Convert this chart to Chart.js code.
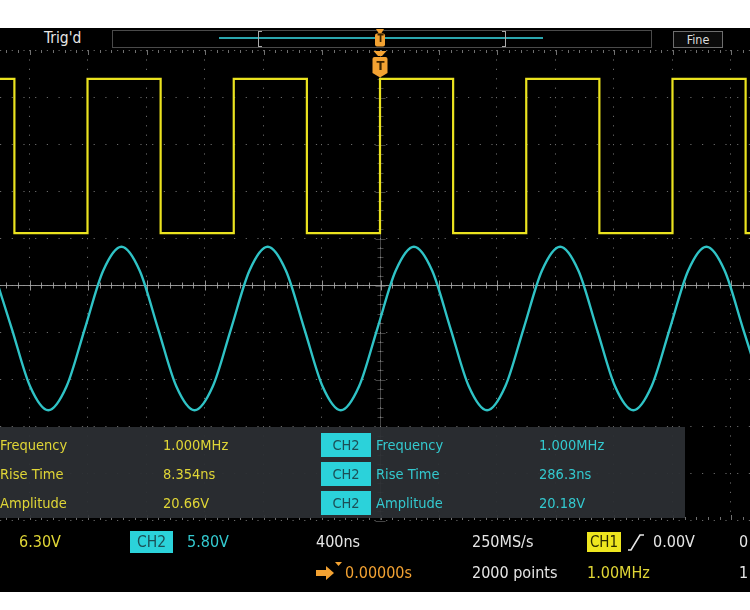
<!DOCTYPE html>
<html>
<head>
<meta charset="utf-8">
<script src="https://cdn.jsdelivr.net/npm/chart.js@4.4.0/dist/chart.umd.min.js"></script>
<style>
  html, body { margin: 0; padding: 0; background: #fff; }
  #scope {
    position: relative; width: 750px; height: 610px; overflow: hidden;
    font-family: "DejaVu Sans Condensed", "Liberation Sans Narrow", sans-serif;
  }
  #bg { position: absolute; left: 0; top: 28px; width: 750px; height: 564px; background: #000; }
  #wave { position: absolute; left: 0; top: 0; }
  .t { position: absolute; white-space: nowrap; height: 20px; line-height: 20px; font-size: 14.5px; }
  .s { font-size: 16px; }
  .yel { color: #e0d636; }
  .cyn { color: #33c9cf; }
  .wht { color: #e6e6e6; }
  .org { color: #f3a232; }
  .badge { position: absolute; text-align: center; font-size: 14.5px; }
  .b2 { background: #2bd2da; color: #1c4f56; }
  .b1 { background: #eee61f; color: #2a2a00; }
  #hdrbox { position: absolute; left: 112px; top: 30px; width: 538px; height: 16px; border: 1px solid #4a4a4a; }
  #hdrline { position: absolute; left: 219px; top: 37px; width: 324px; height: 2px; background: #2aa6ae; }
  .brk { position: absolute; top: 31px; width: 3px; height: 14px; border-top: 1px solid #aaa; border-bottom: 1px solid #aaa; }
  #fine { position: absolute; left: 673px; top: 31px; width: 48px; height: 15px; border: 1px solid #6e6e6e;
          background: #0b0b0b; color: #ddd; font-size: 12.5px; line-height: 15px; text-align: center; }
  #panel { position: absolute; left: 0; top: 427px; width: 685px; height: 91px; background: rgba(44, 47, 51, 0.94); }
  .tmark { position: absolute; color: #3b2300; font-weight: bold; text-align: center; line-height: 1; }
</style>
</head>
<body>
<div id="scope">
  <div id="bg"></div>

  <!-- header -->
  <div class="t wht" style="left:44px; top:28px; font-size:15.5px;">Trig'd</div>
  <div id="hdrbox"></div>
  <div id="hdrline"></div>
  <div class="brk" style="left:258px; border-left:1.5px solid #aaa;"></div>
  <div class="brk" style="left:502px; border-right:1.5px solid #aaa;"></div>
  <div id="fine">Fine</div>

  <canvas id="wave" width="750" height="610"></canvas>
  <div class="tmark" style="left:375px; top:34px; width:11px; font-size:10px;">T</div>
  <div class="tmark" style="left:373px; top:59px; width:15px; font-size:13px;">T</div>

  <!-- measurement panel -->
  <div id="panel"></div>
  <div class="t yel" style="left:0; top:435px;">Frequency</div>
  <div class="t yel" style="left:163px; top:435px;">1.000MHz</div>
  <div class="badge b2" style="left:321px; top:433px; width:50px; height:24px; line-height:24px;">CH2</div>
  <div class="t cyn" style="left:376px; top:435px;">Frequency</div>
  <div class="t cyn" style="left:539px; top:435px;">1.000MHz</div>

  <div class="t yel" style="left:0; top:464px;">Rise Time</div>
  <div class="t yel" style="left:163px; top:464px;">8.354ns</div>
  <div class="badge b2" style="left:321px; top:462px; width:50px; height:24px; line-height:24px;">CH2</div>
  <div class="t cyn" style="left:376px; top:464px;">Rise Time</div>
  <div class="t cyn" style="left:539px; top:464px;">286.3ns</div>

  <div class="t yel" style="left:0; top:493px;">Amplitude</div>
  <div class="t yel" style="left:163px; top:493px;">20.66V</div>
  <div class="badge b2" style="left:321px; top:491px; width:50px; height:24px; line-height:24px;">CH2</div>
  <div class="t cyn" style="left:376px; top:493px;">Amplitude</div>
  <div class="t cyn" style="left:539px; top:493px;">20.18V</div>

  <!-- status bar -->
  <div class="t s yel" style="left:19px; top:532px;">6.30V</div>
  <div class="badge b2" style="left:130px; top:531px; width:43px; height:22px; line-height:22px; font-size:15.5px;">CH2</div>
  <div class="t s cyn" style="left:187px; top:532px;">5.80V</div>
  <div class="t s wht" style="left:316px; top:532px;">400ns</div>
  <div class="t s wht" style="left:472px; top:532px;">250MS/s</div>
  <div class="badge b1" style="left:587px; top:532px; width:34px; height:20px; line-height:20px; font-size:15px;">CH1</div>
  <svg style="position:absolute; left:626px; top:532px;" width="20" height="20">
    <polyline points="2,18 5,18 14,3 18,3" fill="none" stroke="#e6e6e6" stroke-width="1.6"/>
  </svg>
  <div class="t s wht" style="left:653px; top:532px;">0.00V</div>
  <div class="t s wht" style="left:739px; top:532px;">0</div>

  <svg style="position:absolute; left:315px; top:561px;" width="30" height="22">
    <polygon points="1,9 11,9 11,5 19,12 11,19 11,15 1,15" fill="#f3a232"/>
    <polygon points="20,1 27,1 23.5,5" fill="#f3a232"/>
  </svg>
  <div class="t s org" style="left:345px; top:563px;">0.00000s</div>
  <div class="t s wht" style="left:472px; top:563px;">2000 points</div>
  <div class="t s yel" style="left:587px; top:563px;">1.00MHz</div>
  <div class="t s wht" style="left:739px; top:563px;">1</div>
</div>

<script>
// CH1: square wave, 1 MHz, 20.66 V amplitude (time in ns, level in V)
const ch1Time  = [-2650, -2500, -2500, -2000, -2000, -1500, -1500, -1000, -1000, -500, -500, 0,
                  0, 500, 500, 1000, 1000, 1500, 1500, 2000, 2000, 2500, 2500, 2650];
const ch1Volts = [10.33, 10.33, -10.33, -10.33, 10.33, 10.33, -10.33, -10.33, 10.33, 10.33, -10.33, -10.33,
                  10.33, 10.33, -10.33, -10.33, 10.33, 10.33, -10.33, -10.33, 10.33, 10.33, -10.33, -10.33];

// CH2: sine, 1 MHz, 20.18 V pk-pk, read every 1/8 period
const ch2Time  = [-2643, -2518, -2393, -2268, -2143, -2018, -1893, -1768, -1643, -1518, -1393,
                  -1268, -1143, -1018, -893, -768, -643, -518, -393, -268, -143, -18,
                  107, 232, 357, 482, 607, 732, 857, 982, 1107, 1232, 1357,
                  1482, 1607, 1732, 1857, 1982, 2107, 2232, 2357, 2482, 2607];
const ch2Volts = [7.13, 0, -7.13, -10.09, -7.13, 0, 7.13, 10.09,
                  7.13, 0, -7.13, -10.09, -7.13, 0, 7.13, 10.09,
                  7.13, 0, -7.13, -10.09, -7.13, 0, 7.13, 10.09,
                  7.13, 0, -7.13, -10.09, -7.13, 0, 7.13, 10.09,
                  7.13, 0, -7.13, -10.09, -7.13, 0, 7.13, 10.09,
                  7.13, 0, -7.13];

// graticule: time divisions (ns) and vertical divisions
const timeDivs = [-2400, -2000, -1600, -1200, -800, -400, 0, 400, 800, 1200, 1600, 2000, 2400];
const vertDivs = [-5, -4, -3, -2, -1, 0, 1, 2, 3, 4, 5];

// scope settings
const NS_PER_DIV = 400;
const CH1_V_DIV = 6.30, CH1_POS = 2.745;   // position in divisions above centre
const CH2_V_DIV = 5.80, CH2_POS = -0.926;
const X_MIN = -6.496 * NS_PER_DIV, X_MAX = 6.325 * NS_PER_DIV;

const YELLOW = '#ebe31f';
const CYAN = '#2fc3c6';
const ORANGE = '#f3a232';

const graticule = {
  id: 'graticule',
  beforeDatasetsDraw(chart) {
    const { ctx, chartArea: a, scales: { x, yg } } = chart;
    const cx = Math.round(x.getPixelForValue(0)) + 0.5;
    const cy = Math.round(yg.getPixelForValue(0)) + 0.5;
    const dx = (x.getPixelForValue(NS_PER_DIV) - x.getPixelForValue(0)) / 5;
    const dy = (yg.getPixelForValue(0) - yg.getPixelForValue(1)) / 5;
    ctx.save();
    ctx.lineWidth = 1;
    // centre crosshair
    ctx.strokeStyle = 'rgba(170,170,170,0.85)';
    ctx.beginPath();
    ctx.moveTo(a.left, cy); ctx.lineTo(a.right, cy);
    for (let k = Math.ceil((a.left - cx) / dx); cx + k * dx <= a.right; k++) {
      const px = Math.round(cx + k * dx) + 0.5;
      const h = k % 5 === 0 ? 5 : 3;
      ctx.moveTo(px, cy - h); ctx.lineTo(px, cy + h);
    }
    ctx.stroke();
    ctx.strokeStyle = 'rgba(150,150,150,0.45)';
    ctx.beginPath();
    ctx.moveTo(cx, a.top); ctx.lineTo(cx, a.bottom);
    for (let k = -25; k <= 25; k++) {
      const py = Math.round(cy + k * dy) + 0.5;
      const h = k % 5 === 0 ? 5 : 3;
      ctx.moveTo(cx - h, py); ctx.lineTo(cx + h, py);
    }
    ctx.stroke();
    // edge ticks top and bottom
    ctx.strokeStyle = 'rgba(140,140,140,0.8)';
    ctx.beginPath();
    for (let k = Math.ceil((a.left - cx) / dx); cx + k * dx <= a.right; k++) {
      const px = Math.round(cx + k * dx) + 0.5;
      const h = k % 5 === 0 ? 5 : 3;
      ctx.moveTo(px, a.top); ctx.lineTo(px, a.top + h);
      ctx.moveTo(px, a.bottom); ctx.lineTo(px, a.bottom - h);
    }
    ctx.stroke();
    ctx.restore();
  },
  afterDraw(chart) {
    const { ctx, scales: { x } } = chart;
    const cx = x.getPixelForValue(0);
    ctx.save();
    ctx.fillStyle = ORANGE;
    // trigger marker in header
    ctx.beginPath();
    ctx.moveTo(cx - 4, 29); ctx.lineTo(cx + 4, 29); ctx.lineTo(cx + 1.5, 33); ctx.lineTo(cx - 1.5, 33);
    ctx.fill();
    ctx.beginPath();
    ctx.roundRect(cx - 5, 33.5, 10, 13, 2);
    ctx.fill();
    // trigger marker on graticule
    ctx.beginPath();
    ctx.moveTo(cx - 6.5, 51); ctx.lineTo(cx + 6.5, 51); ctx.lineTo(cx + 2, 56); ctx.lineTo(cx - 2, 56);
    ctx.fill();
    ctx.beginPath();
    ctx.moveTo(cx - 7.5, 59); ctx.quadraticCurveTo(cx - 7.5, 57, cx - 5.5, 57);
    ctx.lineTo(cx + 5.5, 57); ctx.quadraticCurveTo(cx + 7.5, 57, cx + 7.5, 59);
    ctx.lineTo(cx + 7.5, 73); ctx.lineTo(cx, 77.5); ctx.lineTo(cx - 7.5, 73);
    ctx.closePath();
    ctx.fill();
    ctx.restore();
  }
};

const ctx = document.getElementById('wave').getContext('2d');
const chart = new Chart(ctx, {
  type: 'line',
  data: {
    datasets: [
      {
        label: 'CH1',
        data: ch1Time.map((t, i) => ({ x: t, y: ch1Volts[i] })),
        yAxisID: 'y1',
        borderColor: YELLOW,
        borderWidth: 2.2,
        tension: 0,
        pointRadius: 0
      },
      {
        label: 'CH2',
        data: ch2Time.map((t, i) => ({ x: t, y: ch2Volts[i] })),
        yAxisID: 'y2',
        borderColor: CYAN,
        borderWidth: 2.4,
        cubicInterpolationMode: 'monotone',
        pointRadius: 0
      }
    ]
  },
  options: {
    responsive: false,
    animation: false,
    events: [],
    layout: { padding: { top: 50, bottom: 90, left: 0, right: 0 } },
    plugins: { legend: { display: false }, tooltip: { enabled: false } },
    scales: {
      x: {
        type: 'linear', min: X_MIN, max: X_MAX,
        afterBuildTicks: s => { s.ticks = timeDivs.map(v => ({ value: v })); },
        ticks: { display: false },
        grid: { color: 'rgba(150,150,150,0.7)', drawTicks: false, lineWidth: 1 },
        border: { display: false, dash: [1.2, 8.2] }
      },
      yg: {
        position: 'left', min: -5, max: 5,
        afterBuildTicks: s => { s.ticks = vertDivs.map(v => ({ value: v })); },
        ticks: { display: false },
        grid: { color: 'rgba(150,150,150,0.7)', drawTicks: false, lineWidth: 1 },
        border: { display: false, dash: [1.2, 10.5] }
      },
      y1: { display: false, min: (-5 - CH1_POS) * CH1_V_DIV, max: (5 - CH1_POS) * CH1_V_DIV },
      y2: { display: false, min: (-5 - CH2_POS) * CH2_V_DIV, max: (5 - CH2_POS) * CH2_V_DIV }
    }
  },
  plugins: [graticule]
});
</script>
</body>
</html>
